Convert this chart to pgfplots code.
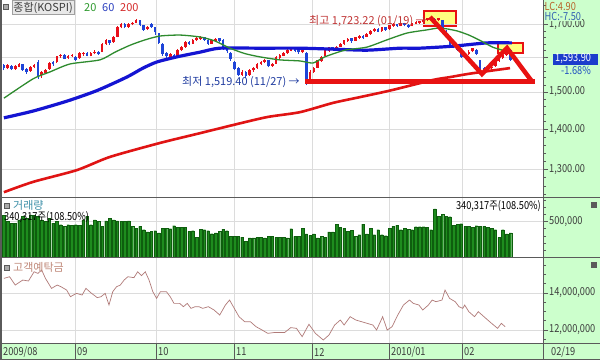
\documentclass[border=0pt]{standalone}
\usepackage{pgfplots}
\pgfplotsset{compat=1.18}
\usepackage{pgfplotstable}
\usepackage{fontspec}
\setmainfont{Noto Sans CJK KR}
\newfontfamily\nf{Noto Sans CJK KR}[FakeStretch=0.84]
\definecolor{pgreen}{HTML}{CCFFCC}
\definecolor{framec}{HTML}{5A5A5A}
\definecolor{gridc}{HTML}{DCDCDC}
\definecolor{lab}{HTML}{3C3C3C}
\definecolor{upc}{HTML}{E8101A}
\definecolor{dnc}{HTML}{1E44D8}
\definecolor{ma20}{HTML}{2E8B2E}
\definecolor{ma60}{HTML}{1414D2}
\definecolor{ma200}{HTML}{E01414}
\definecolor{annred}{HTML}{E81212}
\definecolor{boxy}{HTML}{FFFF80}
\definecolor{volf}{HTML}{1E8C1E}
\definecolor{vold}{HTML}{0E5E0E}
\definecolor{depc}{HTML}{B07A78}
\definecolor{hitext}{HTML}{C03434}
\definecolor{lotext}{HTML}{203CA0}
\definecolor{iconf}{HTML}{AAAAAA}
\definecolor{legfill}{HTML}{E8E8E8}
\definecolor{legdraw}{HTML}{A0A0A0}
\definecolor{t20}{HTML}{2E9A2E}
\definecolor{t60}{HTML}{2B3FBF}
\definecolor{t200}{HTML}{D42A2A}
\definecolor{lct}{HTML}{B8642A}
\definecolor{hct}{HTML}{3060B0}
\definecolor{curbox}{HTML}{1C3CCC}
\definecolor{pctt}{HTML}{2050C0}
\definecolor{volt}{HTML}{3C8FA8}
\definecolor{dept}{HTML}{C08878}
\definecolor{xicon}{HTML}{5A5A5A}

\pgfplotstableread{
i o h l c
0 1575 1580 1562 1570
1 1568 1580 1565 1576
2 1574 1577 1562 1566
3 1566 1576 1563 1573
4 1572 1584 1570 1580
5 1578 1579 1560 1563
6 1565 1568 1552 1558
7 1560 1574 1557 1571
8 1573 1580 1568 1576
9 1585 1592 1536 1545
10 1548 1560 1540 1556
11 1556 1566 1550 1562
12 1565 1585 1563 1582
13 1584 1590 1575 1580
14 1586 1604 1584 1602
15 1603 1610 1598 1606
16 1605 1608 1594 1597
17 1598 1606 1594 1603
18 1604 1610 1600 1606
19 1600 1604 1588 1594
20 1598 1614 1596 1611
21 1610 1616 1604 1613
22 1612 1614 1602 1606
23 1606 1615 1602 1611
24 1612 1620 1608 1616
25 1614 1618 1606 1610
26 1616 1643 1615 1640
27 1642 1654 1638 1650
28 1650 1652 1638 1643
29 1646 1664 1644 1661
30 1662 1694 1660 1690
31 1692 1704 1688 1700
32 1700 1703 1688 1693
33 1694 1704 1690 1701
34 1702 1709 1697 1705
35 1706 1718 1703 1713
36 1712 1714 1694 1698
37 1696 1698 1680 1684
38 1686 1694 1682 1690
39 1700 1703 1690 1694
40 1690 1692 1668 1676
41 1672 1674 1640 1645
42 1640 1642 1604 1610
43 1612 1616 1598 1603
44 1602 1612 1598 1608
45 1606 1610 1596 1600
46 1602 1625 1600 1622
47 1622 1634 1618 1630
48 1632 1648 1628 1645
49 1646 1650 1636 1640
50 1642 1655 1640 1651
51 1652 1660 1648 1656
52 1656 1664 1652 1660
53 1660 1662 1650 1654
54 1652 1654 1638 1641
55 1642 1654 1640 1650
56 1650 1659 1646 1655
57 1656 1658 1646 1650
58 1652 1656 1622 1626
59 1624 1628 1612 1618
60 1612 1614 1590 1595
61 1585 1590 1562 1566
62 1566 1570 1545 1550
63 1550 1562 1546 1557
64 1556 1560 1540 1545
65 1548 1564 1546 1561
66 1562 1570 1558 1566
67 1568 1584 1566 1580
68 1582 1590 1578 1586
69 1588 1596 1584 1591
70 1590 1592 1570 1574
71 1576 1584 1572 1580
72 1582 1602 1580 1600
73 1600 1608 1596 1605
74 1606 1614 1602 1611
75 1612 1624 1610 1620
76 1621 1628 1617 1625
77 1626 1628 1614 1619
78 1620 1623 1610 1615
79 1616 1626 1612 1621
80 1612 1614 1519.4 1524
81 1530 1562 1528 1557
82 1558 1572 1555 1568
83 1570 1592 1568 1590
84 1590 1604 1586 1601
85 1604 1622 1600 1619
86 1620 1632 1616 1629
87 1630 1632 1620 1624
88 1626 1634 1622 1631
89 1633 1642 1630 1640
90 1641 1652 1638 1650
91 1651 1658 1646 1655
92 1656 1657 1644 1649
93 1650 1662 1648 1660
94 1660 1666 1656 1662
95 1663 1667 1656 1660
96 1662 1672 1660 1670
97 1671 1682 1668 1680
98 1680 1688 1676 1685
99 1686 1688 1676 1679
100 1680 1692 1678 1690
101 1690 1692 1680 1684
102 1686 1698 1684 1696
103 1697 1704 1692 1700
104 1700 1702 1692 1696
105 1697 1708 1694 1705
106 1704 1706 1694 1699
107 1698 1701 1690 1694
108 1696 1706 1694 1703
109 1704 1710 1700 1706
110 1707 1712 1702 1709
111 1710 1716 1706 1713
112 1714 1722 1710 1719
113 1720 1723.22 1712 1716
114 1715 1720 1708 1713
115 1714 1722 1710 1719
116 1712 1714 1680 1684
117 1680 1684 1664 1670
118 1660 1664 1634 1638
119 1640 1646 1626 1630
120 1634 1638 1618 1622
121 1618 1622 1598 1602
122 1600 1612 1596 1608
123 1610 1620 1606 1616
124 1618 1628 1614 1625
125 1622 1624 1606 1610
126 1590 1592 1562 1567
127 1566 1572 1552 1560
128 1562 1570 1556 1566
129 1568 1576 1562 1571
130 1575 1592 1572 1589
131 1590 1600 1586 1596
132 1598 1610 1596 1607
133 1608 1620 1604 1616
134 1620 1624 1590 1593.9
}\tcand

\pgfplotstableread{
i p
0 1483
7.7 1537
12.2 1557
17.5 1580
25.4 1592
29.4 1615
33.4 1636
37.3 1652
41.3 1664
46.6 1667
51.9 1661
55.8 1649
59.8 1627
63.7 1611
67.7 1601
73 1592
78.3 1589
81.8 1583
84.9 1601
90.2 1621
96 1630
101.3 1652
106.6 1673
111.9 1683
115.4 1689
119.8 1680
123.2 1666
126.7 1646
129.3 1630
131.9 1621
133.9 1615
}\tmg

\pgfplotstableread{
i p
0 1430
7.7 1448
16.7 1475
24.6 1504
32.5 1542
36.8 1568
40.5 1586
45.8 1601
51.9 1615
57.1 1627
67.7 1627
78.3 1627
87 1624
96 1621
104.8 1627
110 1627
118.8 1633
127.8 1643
134.4 1643
}\tmb

\pgfplotstableread{
i p
0 1246
7.7 1270
19.3 1298
28 1330
41.3 1365
51.9 1390
60.6 1411
69.6 1432
78.3 1445
87 1470
94.2 1486
102.1 1504
113.5 1534
118 1542
123.3 1552
133.9 1568
}\tmr

\pgfplotstableread{
i v
0 588
1 503
2 481
3 481
4 527
5 574
6 551
7 598
8 588
9 574
10 527
11 503
12 551
13 481
14 503
15 457
16 433
17 457
18 447
19 457
20 447
21 527
22 574
23 457
24 527
25 503
26 433
27 513
28 551
29 527
30 513
31 503
32 503
33 513
34 433
35 410
36 433
37 386
38 354
39 363
40 372
41 340
42 410
43 410
44 400
45 443
46 419
47 424
48 419
49 363
50 372
51 278
52 396
53 386
54 372
55 330
56 340
57 363
58 396
59 372
60 292
61 292
62 292
63 283
64 221
65 269
66 269
67 283
68 283
69 269
70 292
71 292
72 278
73 278
74 278
75 269
76 400
77 292
78 292
79 410
80 326
81 306
82 326
83 269
84 292
85 278
86 354
87 354
88 467
89 424
90 410
91 363
92 376
93 292
94 316
95 467
96 326
97 410
98 316
99 386
100 316
101 302
102 410
103 433
104 447
105 386
106 410
107 396
108 386
109 429
110 429
111 429
112 424
113 386
114 682
115 574
116 608
117 574
118 570
119 447
120 467
121 471
122 433
123 433
124 424
125 443
126 433
127 433
128 424
129 410
130 386
131 278
132 386
133 326
134 340
}\tvol

\pgfplotstableread{
i v
0 14.79
1.5 14.88
3 14.43
5 14.70
6.5 14.65
8 15.15
9 15.06
10 15.24
11 14.79
12.6 14.25
14.1 14.43
15.1 14.34
16.6 14.16
17.6 13.80
19.2 13.98
20.7 13.89
21.7 14.25
23.2 13.98
24.7 13.75
25.7 13.80
26.8 13.98
27.8 13.35
28.8 14.07
29.8 14.34
30.8 14.43
31.8 14.70
32.8 14.88
34.4 14.83
35.4 15.15
36.4 14.94
37.4 15.15
38.4 14.70
39.4 14.07
40.4 13.71
41.4 14.07
43 14.07
44 13.80
45 13.44
46.5 13.44
47.5 13.26
48.5 13.44
49.5 13.17
50.6 13.26
51.6 13.26
52.6 13.17
54.1 13.26
55.6 13.08
57.1 12.81
58.6 13.35
59.7 13.62
60.7 13.26
62.2 12.72
63.7 12.45
65.2 12.45
66.7 12.18
68.3 12.00
69.8 11.82
71.8 11.87
74.3 11.87
75.9 12.13
77.4 12.09
78.9 11.64
80.7 12.31
82.4 11.82
84.5 11.46
86 11.73
87.5 12.27
89 12.54
90 12.27
91.6 12.72
93.1 12.54
94.6 12.45
96.1 12.36
97.6 12.27
98.6 12.00
100.2 12.72
101.4 12.00
102.7 12.18
104.2 12.81
105.7 13.35
107.3 13.62
108.3 13.44
109.8 13.35
110.8 13.08
112.3 13.35
113.3 13.62
114.3 13.53
115.9 13.62
116.7 14.16
117.9 13.71
119.4 13.53
120.4 13.26
121.4 13.17
121.9 13.35
123 12.99
124.5 12.72
125.5 12.99
127 12.72
128.5 12.45
130.6 12.09
131.6 12.36
132.6 12.18
}\tdep

\pgfplotsset{panel/.style={scale only axis, width=541pt, xmin=-0.5, xmax=142.62,
  axis line style={draw=none},
  xtick={18.81,40.24,60.88,81.51,101.88,121.19}, xticklabels={}, xtick style={draw=none},
  ytick pos=right, yticklabel pos=right, tick align=outside,
  major tick length=5pt, minor tick length=3pt,
  every tick/.style={framec, line width=0.6pt},
  grid=major, major grid style={gridc, line width=0.6pt},
  yticklabel style={font=\nf\fontsize{11}{12}\selectfont, text=lab, inner sep=0.5pt, xshift=0.5pt},
  clip=true},
  candle/.style n args={3}{#1, line width=#2, restrict expr to domain={\thisrow{c}-\thisrow{o}}{#3},
    quiver={u=0, v={ln(\thisrow{h})-ln(\thisrow{l})}, every arrow/.append style={line width=#2, line cap=butt}}},
  body/.style n args={3}{#1, line width=#2, restrict expr to domain={\thisrow{c}-\thisrow{o}}{#3},
    quiver={u=0, v={abs(ln(\thisrow{c})-ln(\thisrow{o}))+0.0012}, every arrow/.append style={line width=#2, line cap=butt}}}
}

\begin{document}
\begin{tikzpicture}
\path[use as bounding box] (0,0) rectangle (600pt,-360pt);
\begin{scope}[x=1pt,y=-1pt]
  \fill[white] (0,0) rectangle (600,360);
  \fill[pgreen] (543,0) rectangle (600,343);
  \fill[pgreen] (0,343) rectangle (600,360);
  \filldraw[fill=boxy, draw=annred, line width=2pt] (424,11) rectangle (456,26);
  \filldraw[fill=boxy, draw=annred, line width=2pt] (498,43) rectangle (523,53);
\end{scope}

% price panel
\begin{axis}[panel, at={(2pt,-197pt)}, anchor=south west, height=197pt,
  ymin=7.11878, ymax=7.48359,
  ytick={7.17012,7.24423,7.31322,7.37776,7.43838},
  yticklabels={1{,}300.00,1{,}400.00,1{,}500.00,{},1{,}700.00},
  minor ytick={7.12287,7.13887,7.15462,7.18539,7.20043,7.21524,7.22984,7.25842,7.2724,7.2862,7.2998,7.32647,7.33954,7.35245,7.36518,7.39019,7.40246,7.41458,7.42655,7.45008,7.46165,7.47307}]
  \addplot[candle={upc}{0.8pt}{0:100000}] table[x=i, y expr={ln(\thisrow{l})}] {\tcand};
  \addplot[candle={dnc}{0.8pt}{-100000:-0.001}] table[x=i, y expr={ln(\thisrow{l})}] {\tcand};
  \addplot[body={upc}{2.6pt}{0:100000}] table[x=i, y expr={ln(\thisrow{o})-0.0006}] {\tcand};
  \addplot[body={dnc}{2.6pt}{-100000:-0.001}] table[x=i, y expr={ln(\thisrow{c})-0.0006}] {\tcand};
  \addplot[ma200, line width=2.6pt, smooth, tension=0.4] table[x=i, y expr={ln(\thisrow{p})}] {\tmr};
  \addplot[ma60, line width=3.2pt, smooth, tension=0.4] table[x=i, y expr={ln(\thisrow{p})}] {\tmb};
  \addplot[ma20, line width=1.3pt, smooth, tension=0.4] table[x=i, y expr={ln(\thisrow{p})}] {\tmg};
\end{axis}

% volume panel
\begin{axis}[panel, at={(2pt,-257pt)}, anchor=south west, height=59pt,
  ymin=0, ymax=835, ytick={500}, yticklabels={500{,}000},
  minor ytick={100,200,300,400,600,700,800}]
  \addplot[ybar, bar width=2.6pt, bar shift=0pt, fill=volf, draw=vold, line width=0.3pt] table[x=i, y=v] {\tvol};
\end{axis}

% deposit panel
\begin{axis}[panel, at={(2pt,-343pt)}, anchor=south west, height=85pt,
  ymin=11.297, ymax=15.892, ytick={12,14}, yticklabels={12{,}000{,}000,14{,}000{,}000},
  minor ytick={11.5,12.5,13,13.5,14.5,15,15.5}]
  \addplot[depc, line width=0.7pt] table[x=i, y=v] {\tdep};
\end{axis}

\begin{scope}[x=1pt,y=-1pt, font=\fontsize{11}{12}\selectfont]
  \draw[annred, line width=4.5pt] (305,81.5) -- (535,81.5);
  \draw[annred, line width=4.5pt, line join=miter] (430,17) -- (482,74) -- (507,48) -- (532,81.5);
  \node[anchor=west, text=hitext, inner sep=0pt] at (309,21) {최고 1,723.22 (01/19) →};
  \node[anchor=west, text=lotext, inner sep=0pt] at (182,82) {최저 1,519.40 (11/27) →};
  \draw[framec, line width=1.5pt] (0.75,0) -- (0.75,360);
  \draw[framec, line width=1pt] (543,0) -- (543,360);
  \draw[framec, line width=1.6pt] (0,197.5) -- (600,197.5);
  \draw[framec, line width=1.2pt] (0,257.5) -- (600,257.5);
  \draw[framec, line width=1.2pt] (0,343.5) -- (600,343.5);
  \draw[framec, line width=1.2pt] (0,359.4) -- (600,359.4);
  \foreach \xx in {75,156,234,312,389,462} \draw[framec, line width=0.8pt] (\xx,343.5) -- (\xx,359.4);
  \foreach \xx/\tt in {3/2009\slash08, 77/09, 158/10, 236/11, 314/12, 391/2010\slash01, 464/02, 551/02\slash19}
    \node[anchor=west, inner sep=0pt, text=lab, font=\nf\fontsize{11}{12}\selectfont] at (\xx,352) {\tt};
  \filldraw[fill=iconf, draw=framec, line width=0.4pt] (3,4) rectangle (8,9);
  \node[anchor=west, fill=legfill, draw=legdraw, inner sep=1.2pt, text=lab] at (12,7.5) {종합(KOSPI)};
  \node[anchor=west, inner sep=0pt, text=t20] at (84,7.5) {20};
  \node[anchor=west, inner sep=0pt, text=t60] at (102,7.5) {60};
  \node[anchor=west, inner sep=0pt, text=t200] at (120,7.5) {200};
  \node[anchor=west, inner sep=0.5pt, text=lct, font=\nf\fontsize{11}{12}\selectfont] at (544,6) {LC:4.90};
  \node[anchor=west, inner sep=0.5pt, fill=pgreen, text=hct, font=\nf\fontsize{11}{12}\selectfont] at (544,16.5) {HC:-7.50};
  \fill[curbox] (553,53.5) rectangle (598,64.5);
  \node[anchor=west, inner sep=0pt, text=white, font=\nf\fontsize{11}{12}\selectfont] at (555,59) {1,593.90};
  \node[anchor=west, inner sep=0pt, text=pctt, font=\nf\fontsize{11}{12}\selectfont] at (561,70) {-1.68\%};
  \filldraw[fill=iconf, draw=framec, line width=0.4pt] (4,203) rectangle (9,208);
  \node[anchor=west, inner sep=0pt, text=volt] at (13,205) {거래량};
  \node[anchor=west, inner sep=0pt, text=black, font=\nf\fontsize{11}{12}\selectfont] at (4,217.5) {340,317주(108.50\%)};
  \node[anchor=east, inner sep=0pt, text=black, font=\nf\fontsize{11}{12}\selectfont] at (541,206) {340,317주(108.50\%)};
  \fill[xicon] (591,202) rectangle (597,208);
  \filldraw[fill=iconf, draw=framec, line width=0.4pt] (4,265) rectangle (9,270);
  \node[anchor=west, inner sep=0pt, text=dept] at (13,267.5) {고객예탁금};
  \fill[xicon] (591,262) rectangle (597,268);
\end{scope}
\end{tikzpicture}
\end{document}
